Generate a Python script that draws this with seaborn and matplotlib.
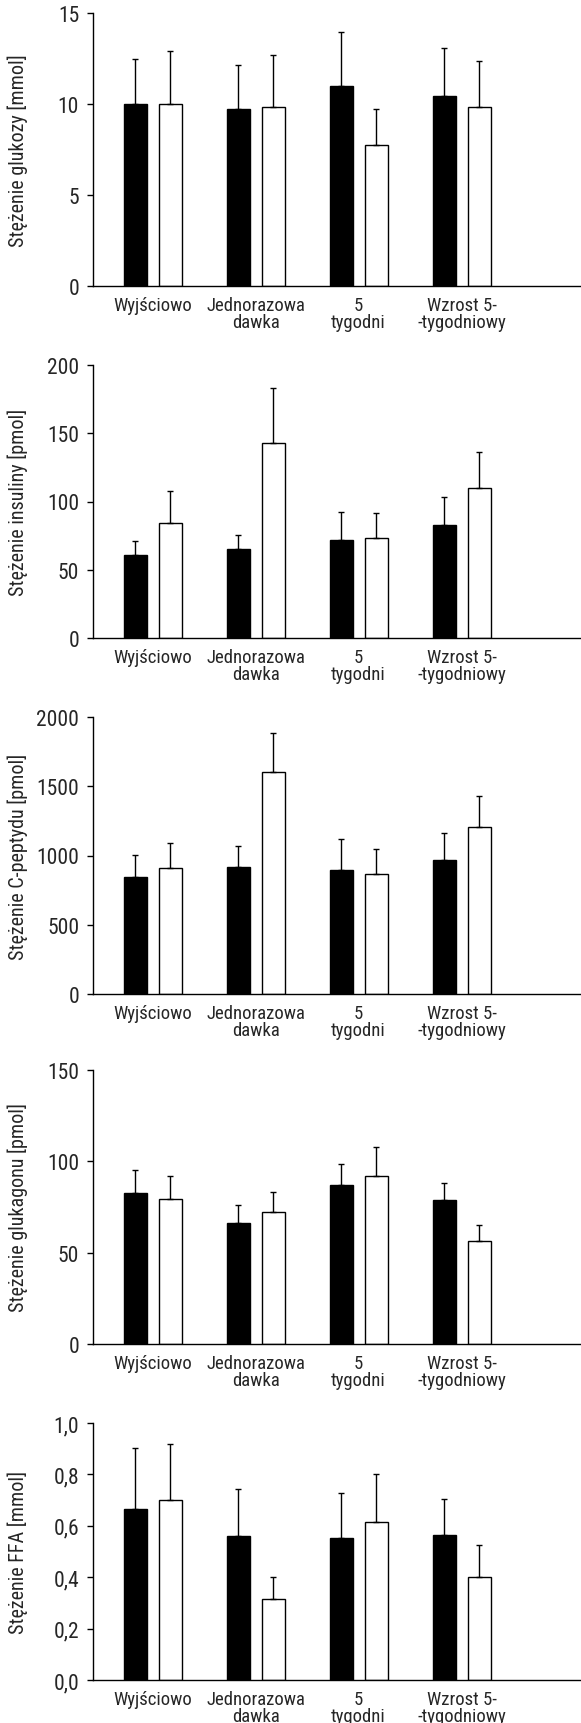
import numpy as np
import pandas as pd
import matplotlib
matplotlib.use("Agg")
import matplotlib.pyplot as plt
from matplotlib import font_manager
from matplotlib.container import BarContainer
import seaborn as sns

categories = ["Wyjściowo", "Jednorazowa\ndawka", "5\ntygodni", "Wzrost 5-\n-tygodniowy"]
groups = ["Grupa 1", "Grupa 2"]

glucose_black = [10.0, 9.7, 11.0, 10.45]
glucose_black_sd = [2.5, 2.45, 2.95, 2.6]
glucose_white = [10.0, 9.85, 7.75, 9.85]
glucose_white_sd = [2.9, 2.85, 1.95, 2.5]

insulin_black = [61, 65, 72, 83]
insulin_black_sd = [10, 10.5, 20, 20]
insulin_white = [84, 143, 73, 110]
insulin_white_sd = [24, 40, 18.5, 26]

cpep_black = [845, 915, 895, 967]
cpep_black_sd = [156, 156, 224, 198]
cpep_white = [907, 1600, 864, 1205]
cpep_white_sd = [183, 285, 183, 224]

glucagon_black = [82.5, 66.3, 87.2, 78.6]
glucagon_black_sd = [12.8, 9.7, 11.5, 9.7]
glucagon_white = [79.5, 72.4, 91.7, 56.6]
glucagon_white_sd = [12.4, 10.9, 16.1, 8.8]

ffa_black = [0.665, 0.56, 0.552, 0.566]
ffa_black_sd = [0.238, 0.182, 0.175, 0.137]
ffa_white = [0.702, 0.316, 0.616, 0.401]
ffa_white_sd = [0.215, 0.084, 0.187, 0.124]

ylabels = ["Stężenie glukozy [mmol]", "Stężenie insuliny [pmol]",
           "Stężenie C-peptydu [pmol]", "Stężenie glukagonu [pmol]",
           "Stężenie FFA [mmol]"]
yticks = [[0, 5, 10, 15], [0, 50, 100, 150, 200], [0, 500, 1000, 1500, 2000],
          [0, 50, 100, 150], [0.0, 0.2, 0.4, 0.6, 0.8, 1.0]]
yticklabels = [["0", "5", "10", "15"], ["0", "50", "100", "150", "200"],
               ["0", "500", "1000", "1500", "2000"], ["0", "50", "100", "150"],
               ["0,0", "0,2", "0,4", "0,6", "0,8", "1,0"]]

panels = [
    (glucose_black, glucose_black_sd, glucose_white, glucose_white_sd),
    (insulin_black, insulin_black_sd, insulin_white, insulin_white_sd),
    (cpep_black, cpep_black_sd, cpep_white, cpep_white_sd),
    (glucagon_black, glucagon_black_sd, glucagon_white, glucagon_white_sd),
    (ffa_black, ffa_black_sd, ffa_white, ffa_white_sd),
]

sns.set_theme(style="ticks")
avail = {f.name for f in font_manager.fontManager.ttflist}
fam = [f for f in ["Liberation Sans Narrow", "Roboto Condensed", "Liberation Sans", "DejaVu Sans"] if f in avail]
plt.rcParams["font.family"] = fam + ["DejaVu Sans"]

W, H = 581, 1724
fig = plt.figure(figsize=(W / 100, H / 100), dpi=100)
# pixel positions (top, bottom) of each plot area
boxes = [(14, 287), (366, 639), (718, 995), (1071, 1345), (1424, 1681)]
left_px, right_px = 93, 581

for i, ((b, bsd, w, wsd), (top, bot)) in enumerate(zip(panels, boxes)):
    ax = fig.add_axes([left_px / W, 1 - bot / H, (right_px - left_px) / W, (bot - top) / H])
    df = pd.DataFrame({
        "kat": categories * 2,
        "grupa": [groups[0]] * 4 + [groups[1]] * 4,
        "val": list(b) + list(w),
    })
    sns.barplot(data=df, x="kat", y="val", hue="grupa", order=categories, hue_order=groups,
                palette=["black", "white"], edgecolor="black", linewidth=1.0,
                width=0.68, gap=0.34, errorbar=None, legend=False, ax=ax, saturation=1)
    sds = [bsd, wsd]
    vals = [b, w]
    bars = [c for c in ax.containers if isinstance(c, BarContainer)]
    for c, cont in enumerate(bars):
        xs = [p.get_x() + p.get_width() / 2 for p in cont.patches]
        ax.errorbar(xs, vals[c], yerr=[np.zeros(4), sds[c]], fmt="none",
                    ecolor="black", elinewidth=1.0, capsize=2.2, capthick=1.0, zorder=1)
    ax.set_xlim(-0.58, 4.16)
    ax.set_ylim(yticks[i][0], yticks[i][-1])
    ax.set_yticks(yticks[i])
    ax.set_yticklabels(yticklabels[i], fontsize=15.5)
    ax.set_xticks(range(4))
    ax.set_xticklabels(categories, fontsize=13.5, linespacing=0.95)
    ax.tick_params(axis="x", length=0, pad=7)
    ax.tick_params(axis="y", length=4, width=1, pad=6, color="black")
    ax.set_xlabel("")
    ax.set_ylabel(ylabels[i], fontsize=14.5, va="center")
    ax.yaxis.set_label_coords(-0.154, 0.5)
    sns.despine(ax=ax)
    for s in ["left", "bottom"]:
        ax.spines[s].set_linewidth(1.0)
        ax.spines[s].set_color("black")
    ax.set_facecolor("white")

fig.savefig("out.png", dpi=100, facecolor="white")
